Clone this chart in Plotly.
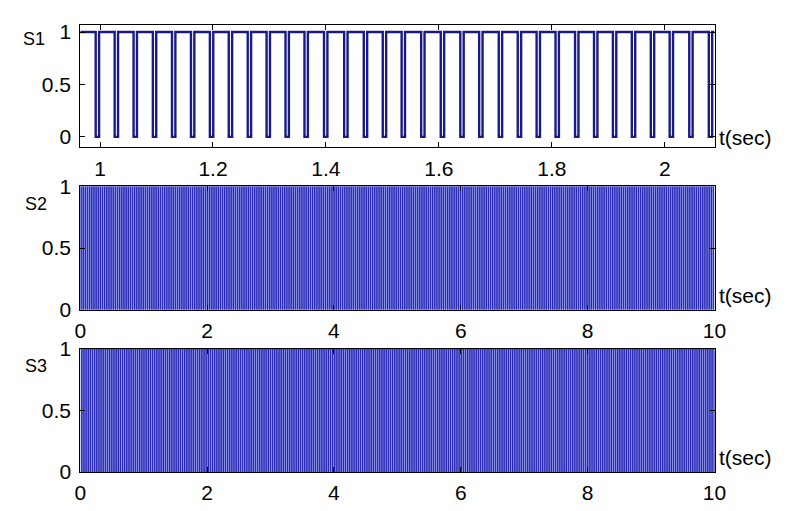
import numpy as np
import plotly.graph_objects as go

# ---- data ----
# S1: times (s) at which the pulse train drops to 0 (zoomed view 0.965..2.088 s)
s1_drop_times = [0.9953, 1.0289, 1.0624, 1.0965, 1.1304, 1.1640, 1.1975, 1.2309,
                 1.2645, 1.2979, 1.3314, 1.3650, 1.3996, 1.4353, 1.4700, 1.5036,
                 1.5370, 1.5716, 1.6063, 1.6409, 1.6743, 1.7090, 1.7426, 1.7760,
                 1.8095, 1.8441, 1.8777, 1.9111, 1.9446, 1.9782, 2.0116, 2.0463,
                 2.0809]
notch_width = 0.006          # s, width of each drop to 0
pulse_period = 0.0338        # s, drop spacing read from S1
s2_first_drop = 0.0131       # s
s3_first_drop = 0.0244       # s
full_range = [0, 10]
s1_range = [0.965, 2.088]

s1_xticks = [1, 1.2, 1.4, 1.6, 1.8, 2]
full_xticks = [0, 2, 4, 6, 8, 10]
y_ticks = [0, 0.5, 1]
labels = ["S1", "S2", "S3"]


def pulse_train(drops, x0, x1, w):
    xs, ys = [x0], [1]
    for d in drops:
        xs += [d - w / 2, d - w / 2, d + w / 2, d + w / 2]
        ys += [1, 0, 0, 1]
    xs.append(x1)
    ys.append(1)
    return xs, ys


s2_drops = list(np.arange(s2_first_drop, full_range[1], pulse_period))
s3_drops = list(np.arange(s3_first_drop, full_range[1], pulse_period))

line_col = "#1a1a86"
dense_line = "#1e1eb0"
fill_col = "#a6aef6"

fig = go.Figure()
x, y = pulse_train(s1_drop_times, s1_range[0], s1_range[1], notch_width)
fig.add_trace(go.Scatter(x=x, y=y, mode="lines", line=dict(color=line_col, width=2.4),
                         xaxis="x", yaxis="y", showlegend=False))
x, y = pulse_train(s2_drops, full_range[0], full_range[1], notch_width)
fig.add_trace(go.Scatter(x=x, y=y, mode="lines", line=dict(color=dense_line, width=0.9),
                         fill="tozeroy", fillcolor=fill_col,
                         xaxis="x2", yaxis="y2", showlegend=False))
x, y = pulse_train(s3_drops, full_range[0], full_range[1], notch_width)
fig.add_trace(go.Scatter(x=x, y=y, mode="lines", line=dict(color=dense_line, width=0.9),
                         fill="tozeroy", fillcolor=fill_col,
                         xaxis="x3", yaxis="y3", showlegend=False))

W, H = 791, 511


def px(v):
    return v / W


def py(v):
    return 1 - v / H


xdom = [px(76), px(725)]
ydoms = [[py(141.7), py(13.3)],
         [py(311.7), py(182.7)],
         [py(481.7), py(352.7)]]

tick_font = dict(family="Liberation Sans, Arial, sans-serif", size=21, color="black")
lab_font = dict(family="Liberation Sans, Arial, sans-serif", size=18, color="black")
axcommon = dict(showline=True, linecolor="black", linewidth=1, mirror="ticks",
                ticks="inside", ticklen=5, tickcolor="black", showgrid=False,
                zeroline=False, tickfont=tick_font)

layout = dict(width=W, height=H, margin=dict(l=0, r=0, t=0, b=0),
              paper_bgcolor="white", plot_bgcolor="white", showlegend=False)
for i in range(3):
    sx = "" if i == 0 else str(i + 1)
    layout["xaxis" + sx] = dict(axcommon, domain=xdom, anchor="y" + sx,
                                range=s1_range if i == 0 else full_range,
                                tickvals=s1_xticks if i == 0 else full_xticks,
                                ticktext=[str(v) for v in (s1_xticks if i == 0 else full_xticks)],
                                ticklabelstandoff=2)
    layout["yaxis" + sx] = dict(axcommon, domain=ydoms[i], anchor="x" + sx,
                                range=[-0.1, 1.07] if i == 0 else [0, 1],
                                tickvals=y_ticks, ticktext=["0", "0.5", "1"],
                                ticklabelstandoff=4)
fig.update_layout(**layout)

ann = []
label_y = [28, 201, 371]
tsec_y = [131, 297, 467]
for i in range(3):
    ann.append(dict(text=labels[i], x=px(15 if i == 0 else 17), y=py(label_y[i]),
                    xref="paper", yref="paper", xanchor="left", yanchor="middle",
                    showarrow=False, font=lab_font))
    ann.append(dict(text="t(sec)", x=px(728), y=py(tsec_y[i]),
                    xref="paper", yref="paper", xanchor="left", yanchor="middle",
                    showarrow=False, font=tick_font))
fig.update_layout(annotations=ann)

fig.write_html("out.html")
